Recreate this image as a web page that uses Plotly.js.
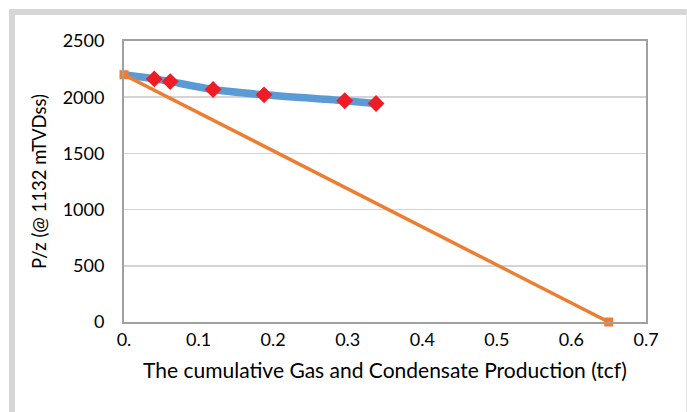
<!DOCTYPE html>
<html>
<head>
<meta charset="utf-8">
<script src="https://cdn.plot.ly/plotly-3.0.1.min.js"></script>
<style>
  html, body { margin: 0; padding: 0; background: #ffffff; }
  #frame { position: absolute; left: 9px; top: 9px; width: 671px; height: 403px;
           border-left: 6px solid #d6d6d6; border-top: 6px solid #d6d6d6; border-right: 1px solid #e6e6e6; }
  #chart { position: absolute; left: 0; top: 0; width: 687px; height: 412px; }
</style>
</head>
<body>
<div id="frame"></div>
<div id="chart"></div>
<script>
// Measured data (tcf, P/z)
const curveX = [0, 0.0406, 0.062, 0.1195, 0.1878, 0.296, 0.338];
const curveY = [2200, 2163, 2139, 2068, 2021, 1968, 1944];
const pointsX = [0.0406, 0.062, 0.1195, 0.1878, 0.296, 0.338];
const pointsY = [2163, 2139, 2068, 2021, 1968, 1944];
const lineX = [0, 0.65];
const lineY = [2200, 0];
const xTickVals = [0, 0.1, 0.2, 0.3, 0.4, 0.5, 0.6, 0.7];
const xTickText = ['0.', '0.1', '0.2', '0.3', '0.4', '0.5', '0.6', '0.7'];
const yTickVals = [0, 500, 1000, 1500, 2000, 2500];

const fontFam = 'Lato, Open Sans, sans-serif';

const traces = [
  { x: curveX, y: curveY, mode: 'lines', line: { color: '#5b9bd5', width: 7.5, shape: 'spline', smoothing: 0.8 },
    hoverinfo: 'skip', showlegend: false, cliponaxis: false },
  { x: pointsX, y: pointsY, mode: 'markers', marker: { symbol: 'diamond', color: '#ee1c25', size: 13 },
    showlegend: false, cliponaxis: false },
  { x: lineX, y: lineY, mode: 'lines+markers', line: { color: '#ed7d31', width: 3.5 },
    marker: { symbol: 'square', color: '#ed7d31', size: 9 }, showlegend: false, cliponaxis: false }
];

const layout = {
  width: 687, height: 412,
  margin: { l: 124, r: 41, t: 41, b: 90 },
  paper_bgcolor: 'rgba(0,0,0,0)',
  plot_bgcolor: '#ffffff',
  font: { family: fontFam, size: 18, color: '#000000' },
  xaxis: {
    range: [0, 0.7], tickvals: xTickVals, ticktext: xTickText,
    showgrid: false, zeroline: false,
    showline: true, linecolor: '#a0a0a0', linewidth: 2, mirror: true,
    ticks: '', ticklen: 0,
    tickfont: { family: fontFam, size: 18, color: '#000' },
    title: { text: 'The cumulative Gas and Condensate Production (tcf)', font: { family: fontFam, size: 21, color: '#000' }, standoff: 15 }
  },
  yaxis: {
    range: [0, 2500], tickvals: yTickVals,
    showgrid: true, gridcolor: '#d4d4d4', gridwidth: 1.5, zeroline: false,
    showline: true, linecolor: '#a0a0a0', linewidth: 2, mirror: true,
    ticks: '', ticklabelstandoff: 14,
    tickfont: { family: fontFam, size: 18, color: '#000' },
    title: { text: 'P/z (@ 1132 mTVDss)', font: { family: fontFam, size: 18.5, color: '#000' }, standoff: 11 }
  }
};

Plotly.newPlot('chart', traces, layout, { displayModeBar: false, staticPlot: true });
</script>
</body>
</html>
